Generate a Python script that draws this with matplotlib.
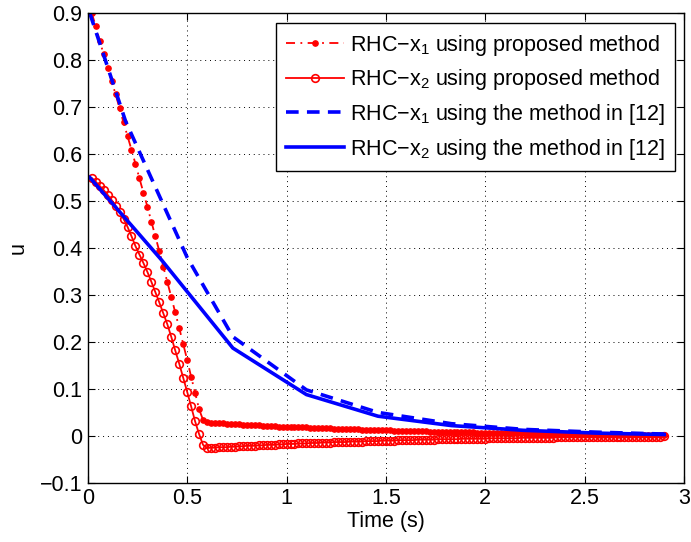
import numpy as np
import matplotlib
matplotlib.use("Agg")
import matplotlib.pyplot as plt

plt.rcParams['font.family'] = ['Liberation Sans', 'DejaVu Sans']
plt.rcParams['mathtext.fontset'] = 'custom'
plt.rcParams['mathtext.rm'] = 'Liberation Sans'

# sample times of the proposed method (dt = 0.02 s)
t_prop = np.round(np.arange(1, 146) * 0.02, 2)

# RHC-x1, proposed method
x1_prop = [
    0.900, 0.872, 0.841, 0.812, 0.784, 0.755, 0.727, 0.697, 0.667, 0.638,
    0.609, 0.579, 0.548, 0.518, 0.488, 0.456, 0.425, 0.393, 0.360, 0.328,
    0.296, 0.263, 0.230, 0.196, 0.162, 0.126, 0.092, 0.057, 0.034,
    0.029, 0.028, 0.028, 0.027, 0.027, 0.026, 0.026, 0.025, 0.025, 0.024,
    0.024, 0.023, 0.023, 0.023, 0.022, 0.022, 0.021, 0.021, 0.020, 0.020,
    0.020, 0.019, 0.019, 0.018, 0.018, 0.018, 0.017, 0.017, 0.017, 0.016,
    0.016, 0.016, 0.015, 0.015, 0.015, 0.014, 0.014, 0.014, 0.014, 0.013,
    0.013, 0.013, 0.013, 0.012, 0.012, 0.012, 0.012, 0.011, 0.011, 0.011,
    0.011, 0.010, 0.010, 0.010, 0.010, 0.010, 0.009, 0.009, 0.009, 0.009,
    0.009, 0.009, 0.008, 0.008, 0.008, 0.008, 0.008, 0.008, 0.007, 0.007,
    0.007, 0.007, 0.007, 0.007, 0.006, 0.006, 0.006, 0.006, 0.006, 0.006,
    0.006, 0.005, 0.005, 0.005, 0.005, 0.005, 0.005, 0.005, 0.005, 0.004,
    0.004, 0.004, 0.004, 0.004, 0.004, 0.004, 0.004, 0.004, 0.003, 0.003,
    0.003, 0.003, 0.003, 0.003, 0.003, 0.003, 0.003, 0.003, 0.002, 0.002,
    0.002, 0.002, 0.002, 0.002, 0.002, 0.002,
]

# RHC-x2, proposed method
x2_prop = [
    0.549, 0.541, 0.532, 0.523, 0.513, 0.502, 0.490, 0.477, 0.462, 0.445,
    0.425, 0.404, 0.386, 0.368, 0.349, 0.328, 0.306, 0.284, 0.261, 0.238,
    0.211, 0.182, 0.154, 0.124, 0.094, 0.063, 0.031, 0.004, -0.019,
    -0.026, -0.025, -0.025, -0.024, -0.024, -0.024, -0.023, -0.023, -0.022, -0.022,
    -0.021, -0.021, -0.021, -0.020, -0.020, -0.019, -0.019, -0.019, -0.018, -0.018,
    -0.017, -0.017, -0.017, -0.016, -0.016, -0.016, -0.015, -0.015, -0.015, -0.014,
    -0.014, -0.014, -0.013, -0.013, -0.013, -0.013, -0.012, -0.012, -0.012, -0.012,
    -0.011, -0.011, -0.011, -0.011, -0.010, -0.010, -0.010, -0.010, -0.009, -0.009,
    -0.009, -0.009, -0.009, -0.008, -0.008, -0.008, -0.008, -0.008, -0.007, -0.007,
    -0.007, -0.007, -0.007, -0.007, -0.006, -0.006, -0.006, -0.006, -0.006, -0.006,
    -0.006, -0.005, -0.005, -0.005, -0.005, -0.005, -0.005, -0.005, -0.005, -0.004,
    -0.004, -0.004, -0.004, -0.004, -0.004, -0.004, -0.004, -0.004, -0.003, -0.003,
    -0.003, -0.003, -0.003, -0.003, -0.003, -0.003, -0.003, -0.003, -0.003, -0.003,
    -0.003, -0.002, -0.002, -0.002, -0.002, -0.002, -0.002, -0.002, -0.002, -0.002,
    -0.002, -0.002, -0.002, -0.002, -0.002, -0.001,
]

# method in [12]
t_x1_ref = [0.01, 0.19, 0.50, 0.73, 1.10, 1.46, 1.83, 2.19, 2.56, 2.90]
x1_ref = [0.900, 0.670, 0.380, 0.211, 0.098, 0.050, 0.026, 0.014, 0.008, 0.004]
t_x2_ref = [0.01, 0.37, 0.73, 1.10, 1.46, 1.83, 2.19, 2.56, 2.90]
x2_ref = [0.550, 0.375, 0.187, 0.088, 0.042, 0.022, 0.012, 0.006, 0.003]

labels = [
    r'RHC$-$x$_1$ using proposed method',
    r'RHC$-$x$_2$ using proposed method',
    r'RHC$-$x$_1$ using the method in [12]',
    r'RHC$-$x$_2$ using the method in [12]',
]

fig = plt.figure(figsize=(6.91, 5.42), dpi=100)
ax = fig.add_axes([0.127, 0.109, 0.863, 0.867])

ax.plot(t_prop, x1_prop, color='red', linestyle=(0, (5, 3, 1, 3)), lw=1.3,
        marker='o', ms=3.8, mfc='red', mec='red', label=labels[0])
ax.plot(t_prop, x2_prop, color='red', linestyle='-', lw=1.3,
        marker='o', ms=5.5, mfc='none', mec='red', mew=1.2, label=labels[1])
ax.plot(t_x1_ref, x1_ref, color='blue', linestyle=(0, (3.5, 2.3)), lw=2.6,
        label=labels[2])
ax.plot(t_x2_ref, x2_ref, color='blue', linestyle='-', lw=2.6,
        label=labels[3])

ax.set_xlim(0, 3)
ax.set_ylim(-0.1, 0.9)
ax.set_xticks(np.arange(0, 3.01, 0.5))
ax.set_xticklabels(['0', '0.5', '1', '1.5', '2', '2.5', '3'])
ax.set_yticks(np.round(np.arange(-0.1, 0.91, 0.1), 1))
ax.set_yticklabels(['\u22120.1', '0', '0.1', '0.2', '0.3', '0.4', '0.5',
                    '0.6', '0.7', '0.8', '0.9'])
ax.tick_params(direction='in', labelsize=15.5, length=5, top=True, right=True,
               pad=4)
ax.grid(True, color='black', linestyle=(0, (1, 4)), lw=0.7)
for s in ax.spines.values():
    s.set_linewidth(1.0)

ax.set_xlabel('Time (s)', fontsize=15.5, labelpad=1)
ax.set_ylabel('u', fontsize=15.5, labelpad=8)

leg = ax.legend(loc='upper right', bbox_to_anchor=(0.985, 0.979), fontsize=15.5,
                fancybox=False, edgecolor='black', framealpha=1,
                borderpad=0.45, labelspacing=0.45, handlelength=2.7,
                handletextpad=0.3, borderaxespad=0)
leg.get_frame().set_linewidth(1.0)

fig.savefig('out.png', dpi=100)
